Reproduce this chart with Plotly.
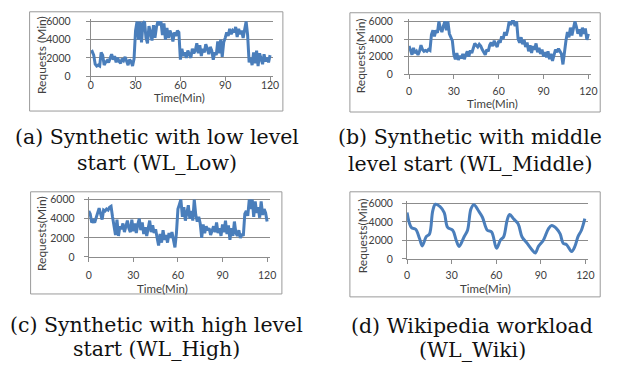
import plotly.graph_objects as go

minutes = list(range(0, 121))

wl_low = [2600, 2700, 2300, 1300, 1100, 1200, 1100, 2600, 2300, 1200,
          1500, 1700, 1500, 2000, 2400, 1800, 2200, 1500, 2000, 1600,
          1400, 1900, 1700, 2100, 1500, 1200, 1800, 1600, 1100, 1900,
          5000, 6000, 4000, 6000, 3700, 5800, 6000, 4200, 3600, 5500,
          4800, 3900, 5600, 4200, 5400, 6000, 5600, 6000, 4500, 5800,
          4000, 5300, 4200, 5000, 4600, 3800, 4800, 4400, 5000, 4800,
          1800, 3000, 2200, 2600, 2000, 2800, 2400, 2000, 3000, 2500,
          2800, 3600, 2500, 3400, 2200, 3000, 2600, 3500, 3000, 2400,
          3200, 2800, 1800, 2600, 2300, 3800, 2500, 4000, 2100, 3700,
          4200, 4800, 4400, 5200, 4600, 5000, 4800, 5400, 4300, 5200,
          4600, 5000, 4200, 5200, 6000, 4500, 1500, 2000, 1200, 2600,
          1400, 2800, 1100, 2500, 1800, 1300, 2400, 1600, 2000, 1500,
          2300]

wl_middle = [3200, 2800, 2200, 3000, 2400, 2600, 2200, 2600, 3300, 2800,
             2600, 2700, 2600, 2800, 2700, 4500, 5000, 4300, 5000, 4700,
             6000, 5200, 4800, 5500, 6000, 5000, 6000, 4600, 4200, 3800,
             2200, 1700, 2400, 1600, 2100, 1800, 2300, 1700, 2200, 2600,
             2000, 2700, 2400, 3000, 3500, 3300, 3100, 3400, 3200, 2800,
             2500, 2200, 2800, 2600, 3300, 3600, 3200, 3800, 3400, 3100,
             3800, 3600, 4300, 4000, 4800, 4400, 5000, 6000, 5600, 6000,
             6000, 5500, 6000, 4000, 3600, 4200, 3400, 3900, 3100, 3600,
             2600, 3300, 2400, 3200, 2800, 3500, 2500, 3000, 2300, 2800,
             2000, 2500, 1900, 2600, 1700, 2300, 1500, 2100, 2800, 2500,
             2900, 2600, 2300, 1100, 2800, 3800, 4800, 4200, 5300, 4400,
             5200, 6000, 5400, 4600, 5100, 4300, 5300, 4600, 5200, 3900,
             4600]

wl_high = [4800, 4500, 3600, 3800, 3600, 4200, 4800, 5100, 4500, 3900,
           4900, 4800, 5000, 4900, 5200, 5300, 4200, 3300, 2300, 3900,
           2200, 3200, 2900, 3500, 2600, 3200, 3800, 3000, 2600, 3900,
           2700, 3500, 2500, 3400, 4000, 2800, 3600, 2400, 3100, 2200,
           3000, 3800, 2600, 3300, 2500, 2900, 2000, 1200, 2400, 1500,
           2800, 1800, 2300, 1500, 2500, 2000, 2600, 1800, 1000, 2500,
           5000, 5500, 6000, 4200, 5200, 3800, 4600, 5400, 4000, 4800,
           3800, 6000, 4400, 3700, 4200, 3500, 2000, 3400, 2500, 3200,
           2800, 3000, 2300, 2800, 3200, 2600, 3600, 2500, 3000, 2200,
           3400, 2600, 3800, 2400, 3300, 1800, 3000, 2200, 3700, 2500,
           2200, 2800, 2000, 2400, 2200, 4500, 4800, 4300, 6000, 5000,
           6000, 4200, 5800, 4600, 5200, 4100, 5800, 4400, 5000, 4600,
           3700]

wiki_min = [0, 2.9, 5.8, 8.4, 10.2, 12.9, 15.1, 17.3, 19.1, 22.2, 25, 27.3,
            30.7, 33, 35, 38.4, 40.7, 43, 45, 48, 50.7, 54, 56.9, 60.2,
            62.9, 65, 67.3, 69, 71.8, 74.7, 77.3, 80.7, 84, 86.2, 88.4,
            91.8, 95.1, 97.3, 100.7, 103, 105, 107.3, 110.7, 112.9, 115,
            117.3, 119.6]
wl_wiki = [5000, 3400, 3200, 2200, 1400, 2400, 2700, 5200, 5900, 5650, 5000,
           3400, 3100, 2050, 1350, 2400, 3100, 5400, 5850, 5200, 4500, 3100,
           2900, 1150, 2050, 2400, 4150, 4800, 4300, 3800, 2400, 1700, 1000,
           650, 1350, 2050, 3250, 3600, 3250, 2700, 1700, 1550, 800, 1350,
           2400, 3100, 4350]

x_ticks = [0, 30, 60, 90, 120]
y_ticks = [0, 2000, 4000, 6000]

captions = [
    ["(a) Synthetic with low level", "start (WL_Low)"],
    ["(b) Synthetic with middle", "level start (WL_Middle)"],
    ["(c) Synthetic with high level", "start (WL_High)"],
    ["(d) Wikipedia workload", "(WL_Wiki)"],
]
y_titles = ["Requests (Min)", "Requests(Min)", "Requests(Min)", "Requests(Min)"]
x_title = "Time(Min)"

W, H = 621, 371
LINE = "#4A7EBB"
GRID = "#8C8C8C"
TXT = "#404040"
FONT = "Lato"

panels = [
    dict(x0=89, x1=274, yt=15.2, yb=74, xs=wl_low, xv=minutes,
         box=(27, 8, 284, 110), ytx=39, yty=52, xtx=179, xty=96,
         xstand=-5, ystand=13),
    dict(x0=412, x1=597, yt=15.3, yb=72, xs=wl_middle, xv=minutes,
         box=(352, 9, 606, 111), ytx=363, yty=53, xtx=497, xty=102,
         xstand=3, ystand=9),
    dict(x0=87, x1=271, yt=198, yb=260, xs=wl_high, xv=minutes,
         box=(28, 193, 283, 298), ytx=39, yty=236, xtx=162, xty=292,
         xstand=4, ystand=7),
    dict(x0=410, x1=594, yt=202, yb=262, xs=wl_wiki, xv=wiki_min,
         box=(352, 193, 606, 301), ytx=365, yty=238, xtx=490, xty=292,
         xstand=2, ystand=7),
]

fig = go.Figure()
layout = dict(width=W, height=H, margin=dict(l=0, r=0, t=0, b=0),
              paper_bgcolor="white", plot_bgcolor="white", showlegend=False)
shapes = []
annotations = []

for i, p in enumerate(panels):
    n = "" if i == 0 else str(i + 1)
    shape = "spline" if i == 3 else "linear"
    fig.add_trace(go.Scatter(x=p["xv"], y=p["xs"], mode="lines",
                             line=dict(color=LINE, width=3, shape=shape),
                             xaxis="x" + n, yaxis="y" + n, hoverinfo="skip"))
    layout["xaxis" + n] = dict(
        domain=[p["x0"] / W, p["x1"] / W], range=[0, 122], anchor="y" + n,
        tickvals=x_ticks, ticks="outside", ticklen=4, tickcolor=GRID,
        showline=True, linecolor=GRID, linewidth=1, showgrid=False,
        zeroline=False, ticklabelstandoff=p["xstand"],
        tickfont=dict(family=FONT, size=10.5, color=TXT))
    layout["yaxis" + n] = dict(
        domain=[1 - p["yb"] / H, 1 - p["yt"] / H], range=[0, 6300],
        anchor="x" + n, tickvals=y_ticks, ticks="outside", ticklen=4,
        tickcolor=GRID, showline=True, linecolor=GRID, linewidth=1,
        showgrid=True, gridcolor=GRID, gridwidth=1, zeroline=False,
        ticklabelstandoff=p["ystand"],
        tickfont=dict(family=FONT, size=10.5, color=TXT))
    bx0, by0, bx1, by1 = p["box"]
    shapes.append(dict(type="rect", xref="paper", yref="paper",
                       x0=bx0 / W, x1=bx1 / W, y0=1 - by1 / H, y1=1 - by0 / H,
                       line=dict(color="#9A9A9A", width=1), layer="below"))
    annotations.append(dict(text=y_titles[i], x=p["ytx"] / W, y=1 - p["yty"] / H,
                            xref="paper", yref="paper", showarrow=False,
                            textangle=-90, xanchor="center", yanchor="middle",
                            borderpad=0,
                            font=dict(family=FONT, size=12, color=TXT)))
    annotations.append(dict(text=x_title, x=p["xtx"] / W, y=1 - p["xty"] / H,
                            xref="paper", yref="paper", showarrow=False,
                            xanchor="center", yanchor="middle", borderpad=0,
                            font=dict(family=FONT, size=11.5, color=TXT)))

cap_pos = [(156, 137, 163), (474, 137, 164), (156, 330, 355), (476, 331, 356)]
for i, (cx, cy1, cy2) in enumerate(cap_pos):
    for text, cy in zip(captions[i], (cy1, cy2)):
        annotations.append(dict(text=text, x=cx / W, y=1 - cy / H,
                                xref="paper", yref="paper", showarrow=False,
                                xanchor="center", yanchor="middle",
                                font=dict(family="DejaVu Serif", size=20.5,
                                          color="#111111")))

layout["shapes"] = shapes
layout["annotations"] = annotations
fig.update_layout(**layout)
fig.write_html("out.html", config={"displayModeBar": False},
               post_script="document.body.style.margin='0';")
